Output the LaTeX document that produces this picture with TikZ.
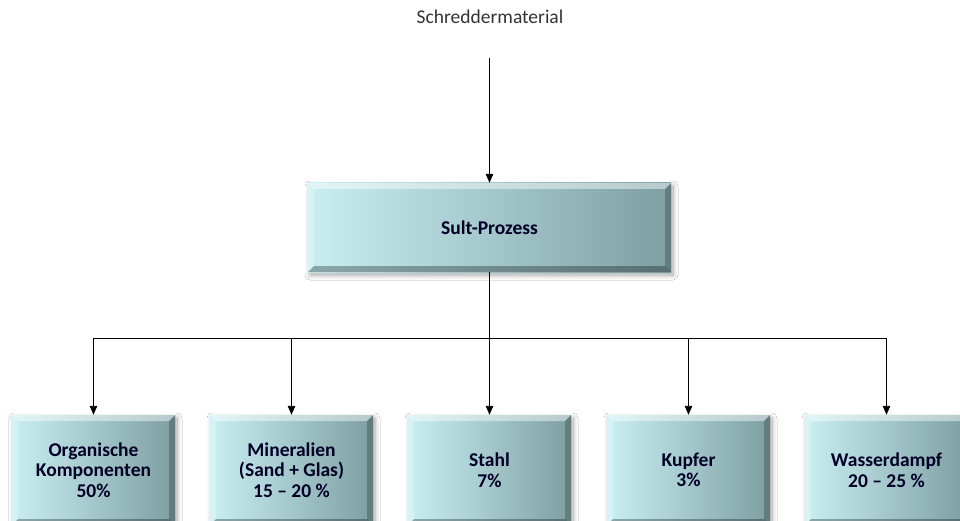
\documentclass[tikz,border=0pt]{standalone}
\usepackage{fontspec}
\setmainfont{Carlito}
\usetikzlibrary{arrows.meta,shadows.blur,calc}
\definecolor{boxL}{HTML}{C9EFF3}
\definecolor{boxR}{HTML}{7E9FA2}
\tikzset{
  bevel/.style={
    path picture={
      \coordinate (A) at (path picture bounding box.north west);
      \coordinate (B) at (path picture bounding box.north east);
      \coordinate (C) at (path picture bounding box.south east);
      \coordinate (D) at (path picture bounding box.south west);
      \fill[white,opacity=.45] (A) -- (B) -- ($(B)+(-6pt,-6pt)$) -- ($(A)+(6pt,-6pt)$) -- cycle;
      \fill[white,opacity=.25] (A) -- ($(A)+(6pt,-6pt)$) -- ($(D)+(6pt,6pt)$) -- (D) -- cycle;
      \fill[black,opacity=.22] (B) -- (C) -- ($(C)+(-6pt,6pt)$) -- ($(B)+(-6pt,-6pt)$) -- cycle;
      \fill[black,opacity=.30] (D) -- (C) -- ($(C)+(-6pt,6pt)$) -- ($(D)+(6pt,6pt)$) -- cycle;
    }},
  procbox/.style={rectangle, inner sep=0pt, left color=boxL, right color=boxR,
    bevel, blur shadow={shadow xshift=2pt, shadow yshift=-3pt, shadow blur steps=8, shadow blur radius=5pt, shadow opacity=35},
    font=\fontsize{19.5}{20.5}\selectfont\bfseries, text=black!85!blue, align=center},
  conn/.style={draw=black, line width=0.9pt},
  arr/.style={conn, -{Triangle[length=9pt,width=7.5pt]}},
}
\begin{document}
\begin{tikzpicture}[x=1pt,y=-1pt]
  \clip (0,0) rectangle (960,521);
  \fill[white] (0,0) rectangle (960,521);

  \node[font=\fontsize{19.5}{20}\selectfont, text=black!80] (src) at (490,17) {Schreddermaterial};

  \node[procbox, minimum width=363pt, minimum height=89pt] (sult) at (489.5,227.5) {Sult-Prozess};
  \coordinate (srcend) at (sult.north |- 0,58);

  \node[procbox, minimum width=163pt, minimum height=110pt] (org) at (93.5,470) {Organische\\Komponenten\\50\%};
  \node[procbox, minimum width=163pt, minimum height=110pt] (min) at (291.5,470) {Mineralien\\(Sand + Glas)\\15 – 20 \%};
  \node[procbox, minimum width=163pt, minimum height=110pt] (sta) at (489.5,470) {Stahl\\7\%};
  \node[procbox, minimum width=163pt, minimum height=110pt] (kup) at (688.5,470) {Kupfer\\3\%};
  \node[procbox, minimum width=163pt, minimum height=110pt] (was) at (886.5,470) {Wasserdampf\\20 – 25 \%};

  % feed into the process
  \draw[arr] (srcend) -- (sult.north);

  % distribution bus
  \coordinate (bus) at (sult.south |- 0,338);
  \coordinate (busL) at (org.north |- bus);
  \coordinate (busR) at (was.north |- bus);
  \draw[conn] (sult.south) -- (bus);
  \draw[conn] (busL) -- (busR);
  \foreach \n in {org,min,sta,kup,was}
    \draw[arr] (\n.north |- bus) -- (\n.north);
\end{tikzpicture}
\end{document}
